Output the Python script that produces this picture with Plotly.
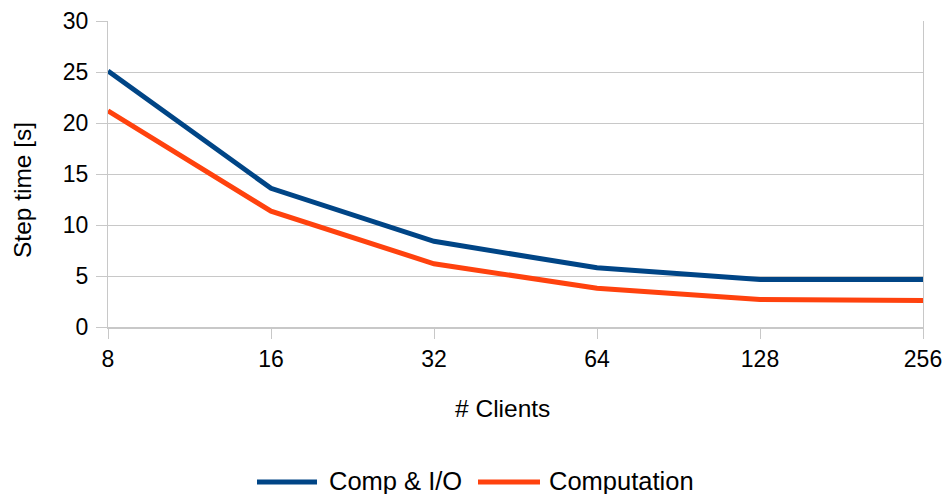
import plotly.graph_objects as go

clients = ["8", "16", "32", "64", "128", "256"]
comp_io = [25.1, 13.6, 8.4, 5.8, 4.65, 4.65]
computation = [21.2, 11.35, 6.2, 3.8, 2.7, 2.6]
series_names = ["Comp & I/O", "Computation"]

BLUE = "#004586"
ORANGE = "#ff420e"
GRID = "#c8c8c8"
FONT = "Liberation Sans, Arial, sans-serif"

# plot area in pixels (for placing legend/title annotations)
L, R, T, B = 108, 923, 21, 327
def px(x):
    return (x - L) / (R - L)
def py(y):
    return (B - y) / (B - T)

fig = go.Figure()
fig.add_trace(go.Scatter(x=clients, y=comp_io, mode="lines", name=series_names[0],
                         line=dict(color=BLUE, width=5), showlegend=False))
fig.add_trace(go.Scatter(x=clients, y=computation, mode="lines", name=series_names[1],
                         line=dict(color=ORANGE, width=5), showlegend=False))

# legend drawn manually to match the long legend keys
legend_shapes = []
legend_annots = []
for (x0, x1, tx, color, name) in [(257, 317, 327, BLUE, series_names[0]),
                                  (478, 540, 547, ORANGE, series_names[1])]:
    legend_shapes.append(dict(type="line", xref="paper", yref="paper",
                              x0=px(x0), x1=px(x1), y0=py(482), y1=py(482),
                              line=dict(color=color, width=5)))
    legend_annots.append(dict(text=name, xref="paper", yref="paper", x=px(tx), y=py(481),
                              xanchor="left", yanchor="middle", showarrow=False,
                              font=dict(size=25.5)))

fig.update_layout(
    width=947, height=494,
    margin=dict(l=L, r=947 - R, t=T, b=494 - B, autoexpand=False),
    paper_bgcolor="white", plot_bgcolor="white",
    font=dict(family=FONT, size=23, color="#000000"),
    showlegend=False,
    xaxis=dict(type="category", range=[0, 5], showgrid=False, zeroline=False,
               showline=True, linecolor=GRID, linewidth=2, automargin=False,
               ticks="outside", ticklen=10, tickcolor=GRID, tickwidth=1,
               tickfont=dict(size=23)),
    yaxis=dict(range=[0, 30], dtick=5, showgrid=True, gridcolor=GRID, gridwidth=1,
               zeroline=False, showline=True, linecolor=GRID, linewidth=1,
               ticks="outside", ticklen=11, tickcolor=GRID, tickwidth=1, automargin=False,
               ticklabelstandoff=3, tickfont=dict(size=23), mirror=True),
    shapes=legend_shapes,
    annotations=[
        dict(text="# Clients", xref="paper", yref="paper", x=px(502),
             y=py(408), xanchor="center", yanchor="middle",
             showarrow=False, font=dict(size=24.5)),
        dict(text="Step time [s]", xref="paper", yref="paper", x=px(22),
             y=py(190), xanchor="center", yanchor="middle", textangle=-90,
             showarrow=False, font=dict(size=24.5)),
    ] + legend_annots,
)

fig.write_html("out.html", config={"displayModeBar": False},
               post_script="document.body.style.margin='0';document.body.style.overflow='hidden';")
